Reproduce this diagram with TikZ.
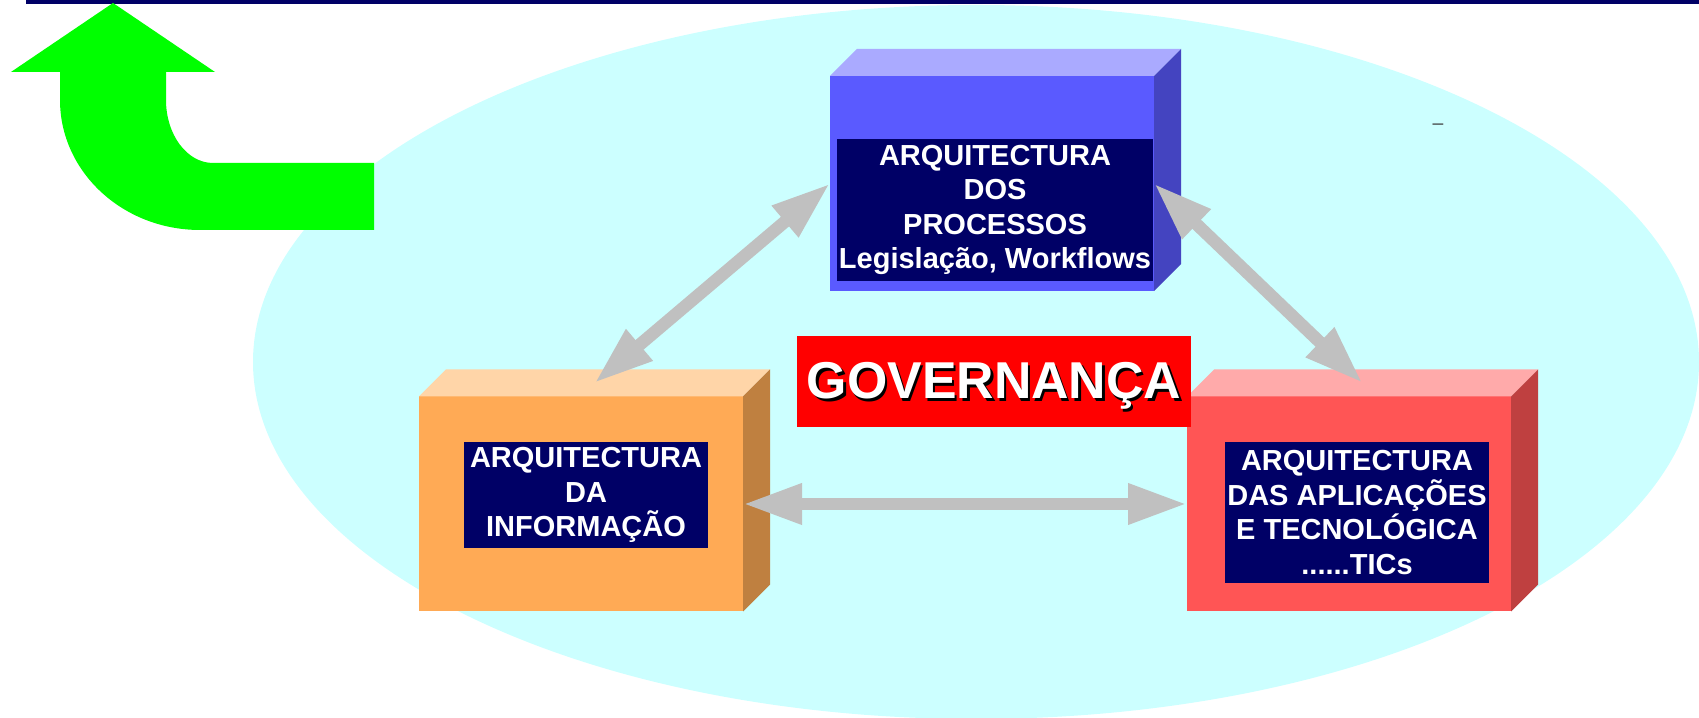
\documentclass[tikz,border=0pt]{standalone}
\usepackage{fontspec}
\setmainfont{Liberation Sans}
\usetikzlibrary{arrows.meta}

\definecolor{sky}{RGB}{204,255,255}
\definecolor{navy}{RGB}{0,0,102}
\definecolor{arrowgreen}{RGB}{0,255,0}
\definecolor{procsfront}{RGB}{90,90,255}
\definecolor{procstop}{RGB}{170,170,255}
\definecolor{procsside}{RGB}{68,68,192}
\definecolor{infofront}{RGB}{255,170,85}
\definecolor{infotop}{RGB}{255,213,168}
\definecolor{infoside}{RGB}{191,128,64}
\definecolor{appsfront}{RGB}{255,85,85}
\definecolor{appstop}{RGB}{255,170,170}
\definecolor{appsside}{RGB}{191,64,64}
\definecolor{linkgray}{RGB}{192,192,192}

\begin{document}
\begin{tikzpicture}[>={Triangle[length=1.18cm,width=0.76cm]}, node distance=15.36cm]
        \tikzstyle{front}=[minimum width=6.48cm, minimum height=4.3cm, inner sep=0pt, outer sep=0pt]
        \tikzstyle{tag}=[fill=navy, text=white, font=\bfseries\fontsize{16.5}{19.7}\selectfont, align=center, inner sep=0pt]
        \tikzstyle{govfont}=[anchor=base, font=\bfseries\fontsize{29.5}{30}\selectfont]
        \tikzstyle{link}=[draw=linkgray, line width=0.25cm, <->]

        \useasboundingbox (0,0) rectangle (33.98,14.36);
        \fill[sky] (19.52,7.12) ellipse [x radius=14.46cm, y radius=7.14cm];
        \fill[navy] (0.52,14.28) rectangle (33.98,14.36);

        % green arrow
        \fill[arrowgreen] (2.26,14.30) -- (4.30,12.92) -- (3.32,12.92) -- (3.32,12.36)
            arc[start angle=180, end angle=270, x radius=0.94cm, y radius=1.26cm]
            -- (7.48,11.10) -- (7.48,9.76) -- (4.00,9.76)
            arc[start angle=270, end angle=180, x radius=2.8cm, y radius=2.6cm]
            -- (1.20,12.92) -- (0.22,12.92) -- cycle;

        % boxes
        \node[front, fill=procsfront] (procs) at (19.84,10.69) {};
        \node[front, fill=infofront]  (info)  at (11.62,4.28)  {};
        \node[front, fill=appsfront]  (apps)  [right of=info]  {};
        \foreach \n/\t/\s in {procs/procstop/procsside, info/infotop/infoside, apps/appstop/appsside} {
            \fill[\t] (\n.north west) -- ++(0.54,0.54) -- ([shift={(0.54,0.54)}]\n.north east) -- (\n.north east) -- cycle;
            \fill[\s] (\n.north east) -- ++(0.54,0.54) -- ([shift={(0.54,0.54)}]\n.south east) -- (\n.south east) -- cycle;
        }
        \coordinate (infolid) at ([shift={(0.27,0.27)}]info.north);
        \coordinate (appslid) at ([shift={(0.27,0.27)}]apps.north);

        \node[tag, minimum width=6.32cm, minimum height=2.84cm] (procstag) at (19.90,10.16)
            {ARQUITECTURA\\DOS\\PROCESSOS\\Legislação, Workflows};
        \node[tag, minimum width=4.88cm, minimum height=2.12cm] (infotag) at (11.72,4.46)
            {ARQUITECTURA\\DA\\INFORMAÇÃO};
        \node[tag, minimum width=5.28cm, minimum height=2.82cm] (appstag) at (27.14,4.11)
            {ARQUITECTURA\\DAS APLICAÇÕES\\E TECNOLÓGICA\\......TICs};

        % governance
        \node[fill=red, minimum width=7.88cm, minimum height=1.82cm, inner sep=0pt] (gov) at (19.88,6.73) {};
        \node[govfont, text=black] (govshade) at ([shift={(0.05,-0.40)}]gov.center) {GOVERNANÇA};
        \node[govfont, text=white] (govtext) at ([yshift=-0.35cm]gov.center) {GOVERNANÇA};

        \node[text=black!75, font=\fontsize{11}{13}\selectfont] (dash) at (28.76,11.82) {--};

        \path
            (procs.west) edge[link] (infolid)
            (procs.east) edge[link] (appslid)
            (info.east)  edge[link] (apps.west)
        ;
    \end{tikzpicture}
\end{document}
